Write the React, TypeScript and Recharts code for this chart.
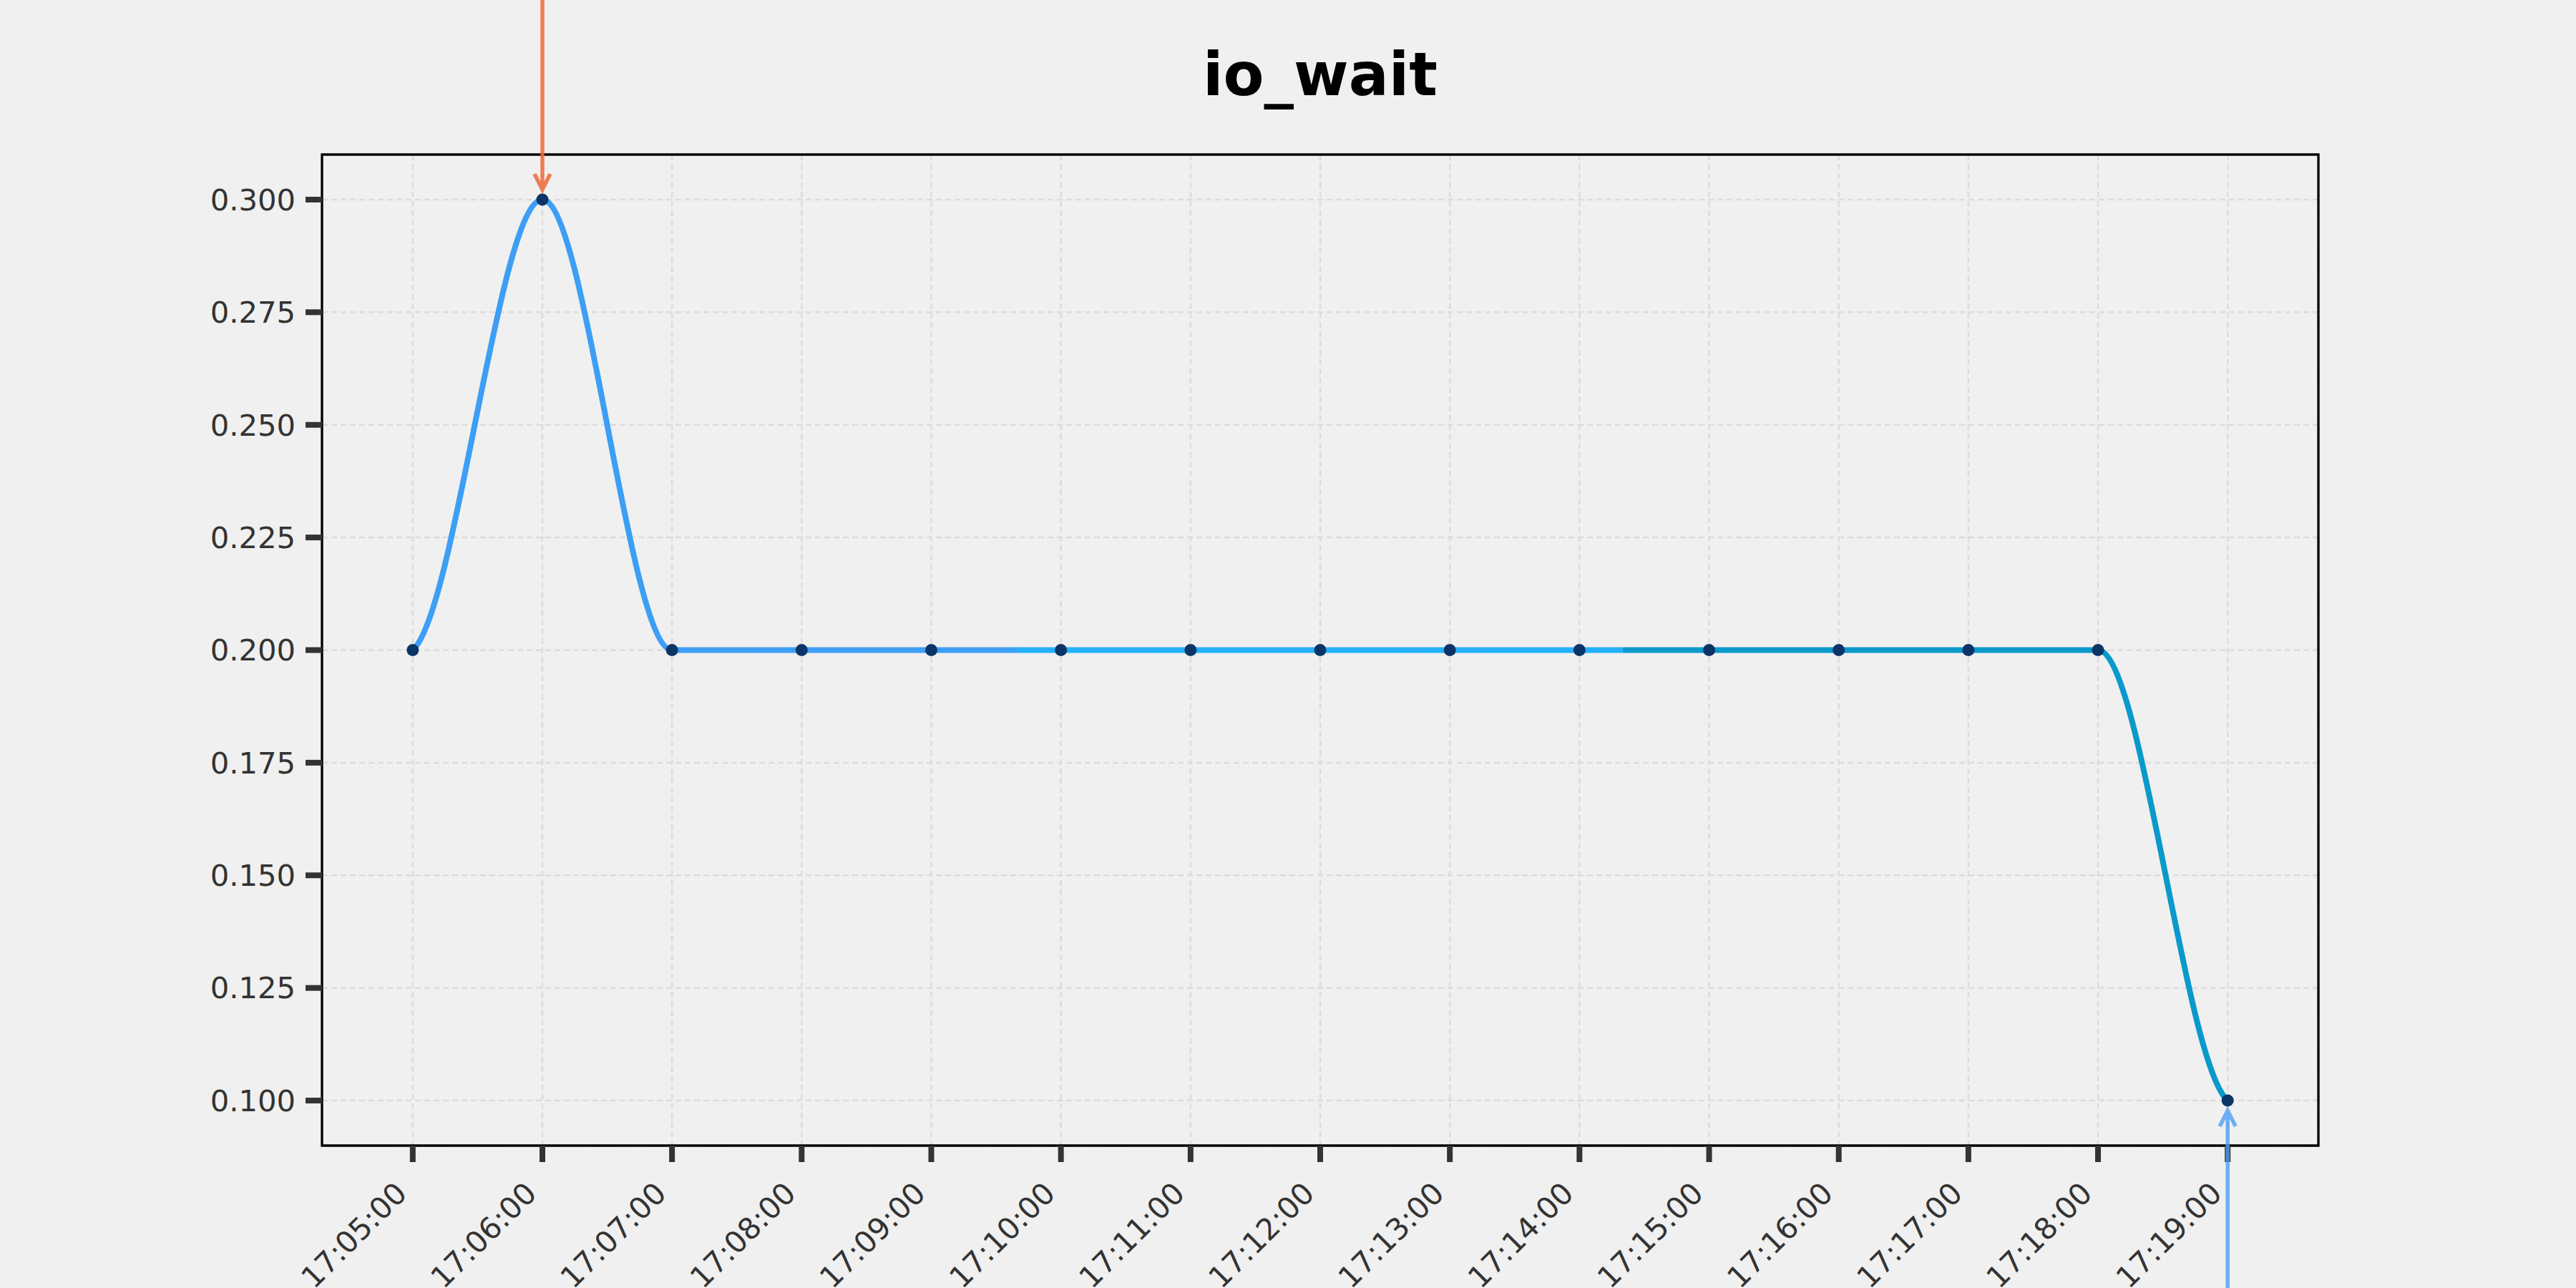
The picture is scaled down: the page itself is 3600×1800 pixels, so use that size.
import React from 'react'
import {
  CartesianGrid,
  Line,
  LineChart,
  ReferenceArea,
  ReferenceDot,
  XAxis,
  YAxis,
} from 'recharts'

// sample times (one per minute) and io_wait values
const times = [
  '17:05:00', '17:06:00', '17:07:00', '17:08:00', '17:09:00',
  '17:10:00', '17:11:00', '17:12:00', '17:13:00', '17:14:00',
  '17:15:00', '17:16:00', '17:17:00', '17:18:00', '17:19:00',
]
const ioWait = [0.2, 0.3, 0.2, 0.2, 0.2, 0.2, 0.2, 0.2, 0.2, 0.2, 0.2, 0.2, 0.2, 0.2, 0.1]
const yTicks = [0.1, 0.125, 0.15, 0.175, 0.2, 0.225, 0.25, 0.275, 0.3]
const segColors = ['#3d9ef5', '#22b1fa', '#0a99cb']

const maxIdx = ioWait.indexOf(Math.max(...ioWait))
const minIdx = ioWait.indexOf(Math.min(...ioWait))

const data = ioWait.map((v, i) => ({ t: i, v }))
const xTicks = times.map((_, i) => i)

const FONT = 'DejaVu Sans'
const INK = '#333333'

// monotone cubic, ends eased instead of steep
const smoothCurve = (context: any) => {
  let xs: number[] = []
  let ys: number[] = []
  return {
    areaStart() {},
    areaEnd() {},
    lineStart() {
      xs = []
      ys = []
    },
    point(x: number, y: number) {
      xs.push(+x)
      ys.push(+y)
    },
    lineEnd() {
      const n = xs.length
      if (!n) return
      context.moveTo(xs[0], ys[0])
      if (n === 1) return
      const s: number[] = []
      for (let i = 0; i < n - 1; i++) s.push((ys[i + 1] - ys[i]) / (xs[i + 1] - xs[i]))
      const tg: number[] = new Array(n).fill(0)
      tg[0] = s[0] * 0.25
      tg[n - 1] = s[n - 2] * 0.25
      for (let i = 1; i < n - 1; i++) {
        const h0 = xs[i] - xs[i - 1]
        const h1 = xs[i + 1] - xs[i]
        const p = (s[i - 1] * h1 + s[i] * h0) / (h0 + h1)
        tg[i] =
          (Math.sign(s[i - 1]) + Math.sign(s[i])) *
            Math.min(Math.abs(s[i - 1]), Math.abs(s[i]), 0.5 * Math.abs(p)) || 0
      }
      for (let i = 0; i < n - 1; i++) {
        const dx = (xs[i + 1] - xs[i]) / 3
        context.bezierCurveTo(
          xs[i] + dx, ys[i] + dx * tg[i],
          xs[i + 1] - dx, ys[i + 1] - dx * tg[i + 1],
          xs[i + 1], ys[i + 1],
        )
      }
    },
  }
}

const XTick = (props: any) => {
  const { x, y, payload } = props
  const ax = x - 16
  const ay = y + 36
  return (
    <text
      x={ax}
      y={ay}
      transform={`rotate(-45 ${ax} ${ay})`}
      textAnchor='end'
      dominantBaseline='central'
      fill={INK}
      fontSize={41.7}
      fontFamily={FONT}
    >
      {times[payload.value]}
    </text>
  )
}

const PeakArrow = (props: any) => {
  const { cx, cy } = props
  const tip = cy - 14
  return (
    <g opacity={0.85} stroke='#ee6a3a' strokeWidth={5.5} fill='none'>
      <line x1={cx} y1={0} x2={cx} y2={tip} />
      <polyline points={`${cx - 11},${tip - 22} ${cx},${tip} ${cx + 11},${tip - 22}`} />
    </g>
  )
}

const LowArrow = (props: any) => {
  const { cx, cy } = props
  const tip = cy + 14
  return (
    <g opacity={0.8} stroke='#4a9ff5' strokeWidth={5.5} fill='none'>
      <line x1={cx} y1={1800} x2={cx} y2={tip} />
      <polyline points={`${cx - 11},${tip + 22} ${cx},${tip} ${cx + 11},${tip + 22}`} />
    </g>
  )
}

export default function App() {
  return (
    <div
      style={{
        position: 'absolute',
        left: 0,
        top: 0,
        width: 3600,
        height: 1800,
        background: '#f0f0f0',
        overflow: 'hidden',
      }}
    >
      <LineChart
        width={3600}
        height={1800}
        data={data}
        margin={{ top: 216, right: 360, bottom: 0, left: 0 }}
      >
        <defs>
          <linearGradient id='ioSeg' x1='0' y1='0' x2='1' y2='0'>
            <stop offset='0' stopColor={segColors[0]} />
            <stop offset='0.3333' stopColor={segColors[0]} />
            <stop offset='0.3333' stopColor={segColors[1]} />
            <stop offset='0.6667' stopColor={segColors[1]} />
            <stop offset='0.6667' stopColor={segColors[2]} />
            <stop offset='1' stopColor={segColors[2]} />
          </linearGradient>
        </defs>
        <CartesianGrid stroke='#dcdcdc' strokeDasharray='8 5' strokeWidth={2.5} />
        <XAxis
          dataKey='t'
          type='number'
          domain={[-0.7, 14.7]}
          ticks={xTicks}
          interval={0}
          allowDataOverflow
          height={199}
          tickSize={23}
          tickMargin={0}
          axisLine={false}
          tickLine={{ stroke: INK, strokeWidth: 8 }}
          tick={<XTick />}
        />
        <YAxis
          type='number'
          domain={[0.09, 0.31]}
          ticks={yTicks}
          interval={0}
          allowDataOverflow
          width={450}
          tickSize={23}
          tickMargin={14}
          axisLine={false}
          tickLine={{ stroke: INK, strokeWidth: 8 }}
          tick={{ fill: INK, fontSize: 41.7, fontFamily: FONT }}
          tickFormatter={(v: number) => v.toFixed(3)}
        />
        <ReferenceArea
          x1={-0.7}
          x2={14.7}
          y1={0.09}
          y2={0.31}
          fill='none'
          fillOpacity={0}
          stroke='#000'
          strokeWidth={3.3}
          ifOverflow='visible'
        />
        <Line
          dataKey='v'
          type={smoothCurve as any}
          stroke='url(#ioSeg)'
          strokeWidth={8}
          dot={{ r: 8.5, fill: '#0b3566', stroke: 'none' }}
          activeDot={false}
          isAnimationActive={false}
        />
        <ReferenceDot x={maxIdx} y={ioWait[maxIdx]} shape={PeakArrow} ifOverflow='visible' />
        <ReferenceDot x={minIdx} y={ioWait[minIdx]} shape={LowArrow} ifOverflow='visible' />
      </LineChart>
      <svg
        width={3600}
        height={1800}
        style={{ position: 'absolute', left: 0, top: 0, pointerEvents: 'none' }}
      >
        <text
          x={1845}
          y={133}
          textAnchor='middle'
          fontFamily={FONT}
          fontWeight='bold'
          fontSize={83}
          fill='#000'
        >
          io_wait
        </text>
      </svg>
    </div>
  )
}
